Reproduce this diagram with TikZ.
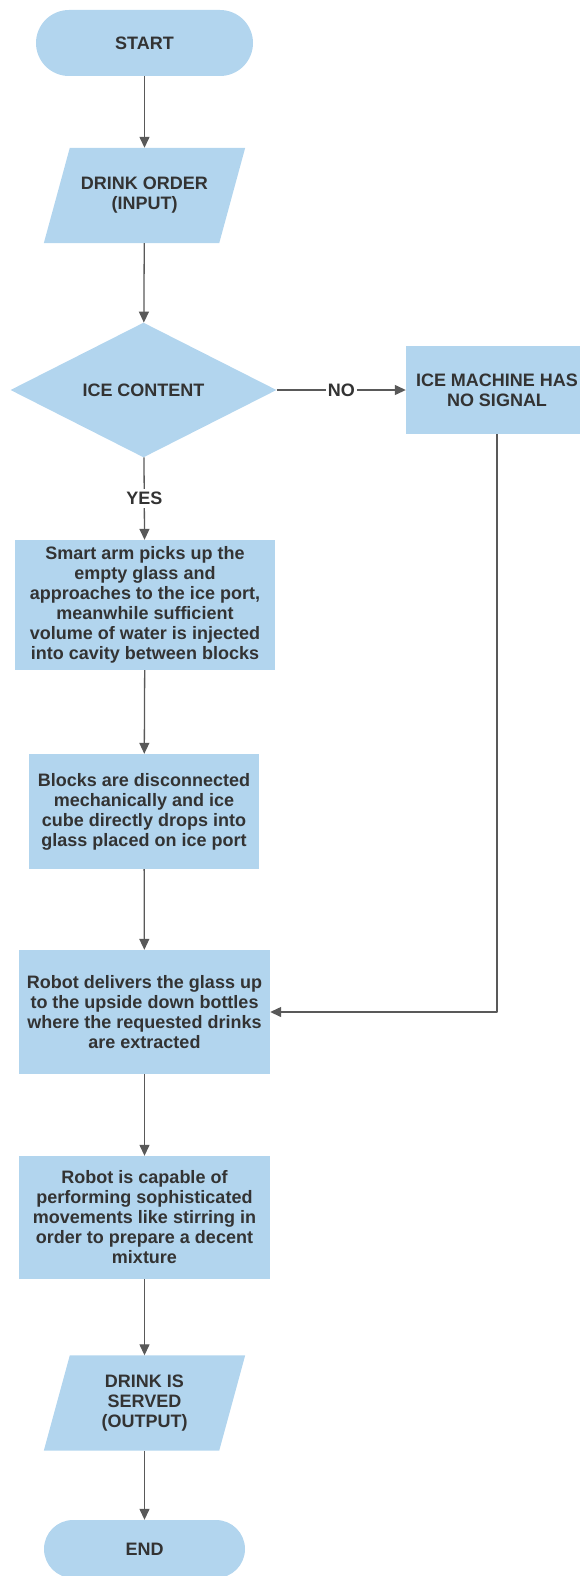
\documentclass[tikz,border=0pt]{standalone}
\usepackage{fontspec}
\setmainfont{Liberation Sans}
\usetikzlibrary{shapes.geometric,arrows.meta,backgrounds}
\definecolor{boxblue}{HTML}{B2D5EE}
\definecolor{txtgray}{HTML}{333333}
\definecolor{linegray}{HTML}{595959}

\begin{document}
\begin{tikzpicture}[x=1pt, y=-1pt, line join=round,
	every node/.style={font=\bfseries\fontsize{18}{20}\selectfont, text=txtgray, align=center, inner sep=0pt},
	term/.style={fill=boxblue, rounded corners=29pt, minimum width=#1, minimum height=58pt},
	proc/.style={fill=boxblue, rectangle},
	io/.style={rectangle, minimum width=175pt, minimum height=95pt},
	decide/.style={fill=boxblue, diamond, minimum width=266pt, minimum height=126pt},
	flow/.style={draw=linegray, line width=1.3pt, -{Triangle[length=11pt, width=10pt]}},
	tag/.style={fill=white, inner xsep=2pt, inner ysep=3pt}]
	\useasboundingbox (0,0) rectangle (579,1576);
	\node[term=217pt, minimum height=66pt, rounded corners=33pt] (start) at (144.5,43) {START};
	\node[io] (order) at (144.5,195.5) {DRINK ORDER\\(INPUT)};
	\node[decide] (ice) at (143.5,390) {ICE CONTENT};
	\node[proc, minimum width=182pt, minimum height=88pt] (nosig) at (497,390) {ICE MACHINE HAS\\NO SIGNAL};
	\node[proc, minimum width=260pt, minimum height=130pt] (arm) at (145,605) {Smart arm picks up the\\empty glass and\\approaches to the ice port,\\meanwhile sufficient\\volume of water is injected\\into cavity between blocks};
	\node[proc, minimum width=230pt, minimum height=115pt] (blocks) at (144,811.5) {Blocks are disconnected\\mechanically and ice\\cube directly drops into\\glass placed on ice port};
	\node[proc, minimum width=251pt, minimum height=124pt] (deliver) at (144.5,1012) {Robot delivers the glass up\\to the upside down bottles\\where the requested drinks\\are extracted};
	\node[proc, minimum width=251pt, minimum height=123pt] (stir) at (144.5,1217.5) {Robot is capable of\\performing sophisticated\\movements like stirring in\\order to prepare a decent\\mixture};
	\node[io] (served) at (144.5,1403) {DRINK IS\\SERVED\\(OUTPUT)};
	\node[term=201pt] (end) at (144.5,1549) {END};

	\begin{scope}[on background layer]
		\foreach \n in {order,served}
			\fill[boxblue] ([xshift=13pt]\n.north west) -- ([xshift=13pt]\n.north east) -- ([xshift=-13pt]\n.south east) -- ([xshift=-13pt]\n.south west) -- cycle;
	\end{scope}

	\draw[flow] (start) -- (order);
	\draw[flow] (order) -- (ice);
	\draw[flow] (ice) -- node[tag] {NO} (nosig);
	\draw[flow] (ice) -- node[tag] {YES} (arm);
	\draw[flow] (arm) -- (blocks);
	\draw[flow] (blocks) -- (deliver);
	\draw[flow] (nosig) |- (deliver);
	\draw[flow] (deliver) -- (stir);
	\draw[flow] (stir) -- (served);
	\draw[flow] (served) -- (end);
\end{tikzpicture}
\end{document}
